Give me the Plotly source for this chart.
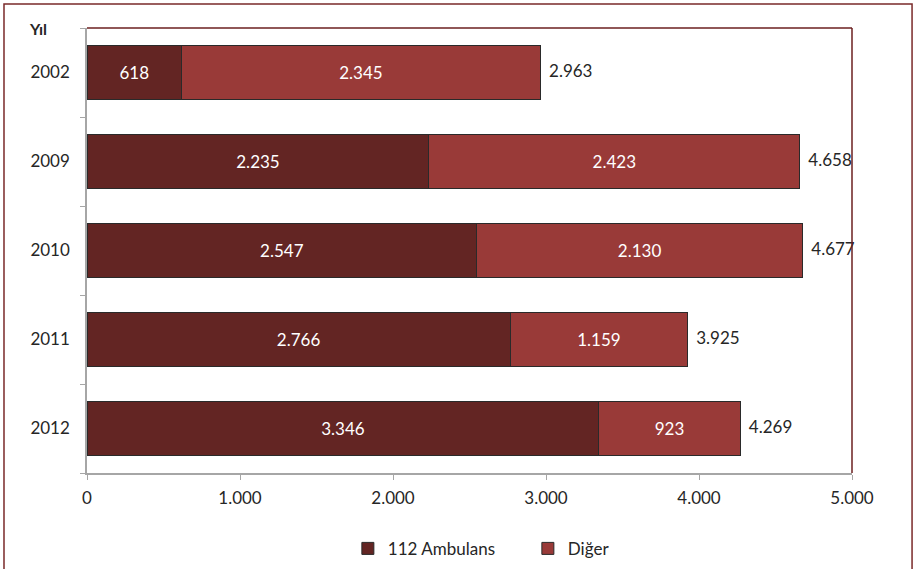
import plotly.graph_objects as go

years = ["2002", "2009", "2010", "2011", "2012"]
ambulans = [618, 2235, 2547, 2766, 3346]
diger = [2345, 2423, 2130, 1159, 923]
totals = [2963, 4658, 4677, 3925, 4269]
x_ticks = [0, 1000, 2000, 3000, 4000, 5000]
x_tick_labels = ["0", "1.000", "2.000", "3.000", "4.000", "5.000"]

FONT = "Lato, Open Sans, sans-serif"
FS = 17
C_AMB = "#632523"
C_DIG = "#993a38"

def fmt(v):
    return f"{v:,}".replace(",", ".")

fig = go.Figure()
fig.add_trace(go.Bar(
    y=years, x=ambulans, orientation="h", name="112 Ambulans",
    marker=dict(color=C_AMB, line=dict(color="#2a2a2a", width=1)),
    text=[fmt(v) for v in ambulans],
    textposition="inside", insidetextanchor="middle",
    textfont=dict(color="white", size=FS, family=FONT),
))
fig.add_trace(go.Bar(
    y=years, x=diger, orientation="h", name="Diğer",
    marker=dict(color=C_DIG, line=dict(color="#2a2a2a", width=1)),
    text=[fmt(v) for v in diger],
    textposition="inside", insidetextanchor="middle",
    textfont=dict(color="white", size=FS, family=FONT),
))
fig.add_trace(go.Scatter(
    y=years, x=totals, mode="text", showlegend=False,
    text=["  " + fmt(v) for v in totals],
    textposition="middle right",
    textfont=dict(color="#262626", size=FS, family=FONT),
    cliponaxis=False, hoverinfo="skip",
))

fig.update_layout(
    width=915, height=569,
    barmode="stack", bargap=0.39,
    separators=",.",
    paper_bgcolor="white", plot_bgcolor="white",
    margin=dict(l=87, r=63, t=28, b=96, autoexpand=False),
    font=dict(family=FONT, size=FS, color="#262626"),
    legend=dict(orientation="h", x=0.341, xanchor="left", y=-0.13, yanchor="top",
                font=dict(size=FS, family=FONT), traceorder="normal",
                itemwidth=30, entrywidthmode="pixels", entrywidth=135),
    showlegend=True,
    xaxis=dict(range=[0, 5000], tickvals=x_ticks, ticktext=x_tick_labels,
               showgrid=False, zeroline=False, showline=True, linecolor="#a6a6a6",
               linewidth=1.5, ticks="outside", ticklen=5, tickcolor="#a6a6a6",
               tickfont=dict(size=FS), ticklabelstandoff=4, fixedrange=True),
    yaxis=dict(categoryorder="array", categoryarray=years[::-1],
               showgrid=False, zeroline=False, showline=True, linecolor="#a6a6a6",
               linewidth=1.5, ticks="outside", ticklen=5, tickcolor="#a6a6a6",
               tickson="boundaries", tickfont=dict(size=FS), ticklabelstandoff=12,
               fixedrange=True),
    shapes=[
        dict(type="line", xref="paper", yref="paper", x0=0, x1=1, y0=1, y1=1,
             line=dict(color="#6b1f1f", width=1.5)),
        dict(type="line", xref="paper", yref="paper", x0=1, x1=1, y0=0, y1=1,
             line=dict(color="#6b1f1f", width=1.5)),
        dict(type="rect", xref="paper", yref="paper", x0=-0.1085, x1=1.0785,
             y0=-0.3, y1=1.054, line=dict(color="#7a2a2a", width=1.5)),
    ],
    annotations=[
        dict(text="<b>Yıl</b>", xref="paper", yref="paper", x=-0.064, y=1.0,
             xanchor="center", yanchor="middle", showarrow=False,
             font=dict(size=16, family=FONT, color="#262626")),
    ],
)

fig.write_html(
    "out.html",
    config={"displayModeBar": False},
    post_script="document.body.style.margin='0';document.body.style.overflow='hidden';",
)
